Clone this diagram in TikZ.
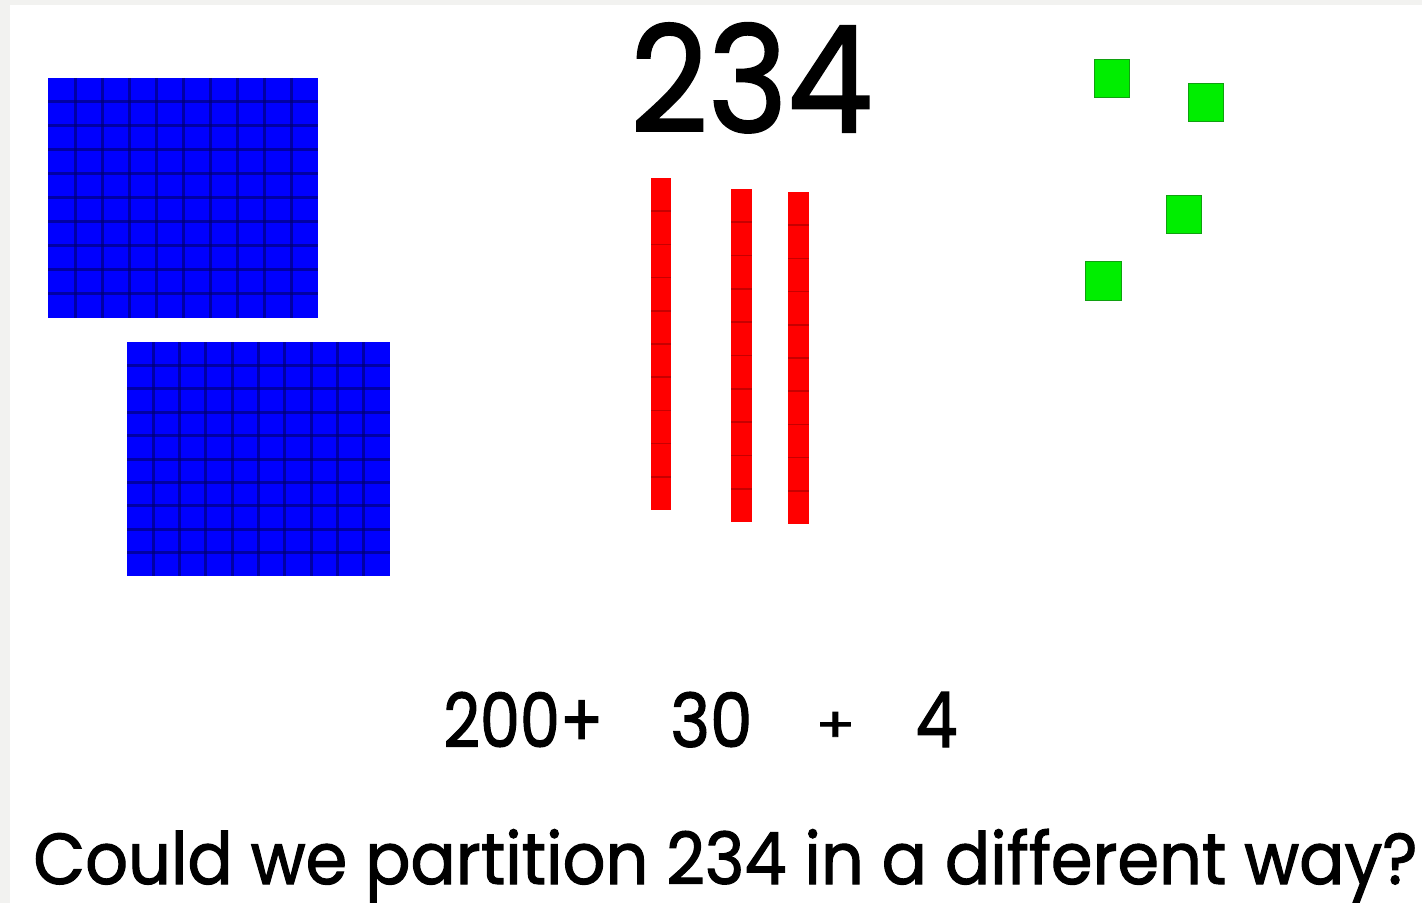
\documentclass[tikz,border=0pt]{standalone}
\usepackage{fontspec}
\usepackage{graphicx}
\newfontfamily\handfont[FakeBold=1.6]{Poppins}
\definecolor{pagegray}{HTML}{F2F2F0}
\definecolor{blockblue}{HTML}{0000FF}
\definecolor{gridnavy}{HTML}{00006A}
\definecolor{rodred}{HTML}{FF0000}
\definecolor{rodline}{HTML}{B00000}
\definecolor{unitgreen}{HTML}{00EE00}
\definecolor{unitedge}{HTML}{10A010}
\tikzset{
  flatfill/.style={fill=blockblue},
  flatgrid/.style={draw=gridnavy, line width=1.5pt, opacity=0.6},
  rodfill/.style={fill=rodred},
  rodgrid/.style={draw=rodline, line width=0.8pt, opacity=0.7},
  unitcube/.style={fill=unitgreen, draw=unitedge, line width=0.5pt},
  label/.style={font=\handfont\fontsize{40}{44}\selectfont, inner sep=0pt, text=black},
}
% text squeezed into a box of given width and height (pt)
\newcommand\fitted[3]{\resizebox{#1pt}{#2pt}{#3}}
% hundred flat: 10 x 10 grid between (x1,y1) and (x2,y2)
\newcommand\hundredflat[4]{%
  \fill[flatfill] (#1,#2) rectangle (#3,#4);
  \foreach \k in {1,...,9}{%
    \draw[flatgrid] ({#1+\k*(#3-#1)/10},#2) -- ({#1+\k*(#3-#1)/10},#4);
    \draw[flatgrid] (#1,{#2+\k*(#4-#2)/10}) -- (#3,{#2+\k*(#4-#2)/10});
  }%
}
% ten rod: 10 segments stacked vertically
\newcommand\tenrod[4]{%
  \fill[rodfill] (#1,#2) rectangle (#3,#4);
  \foreach \k in {1,...,9}{%
    \draw[rodgrid] (#1,{#2+\k*(#4-#2)/10}) -- (#3,{#2+\k*(#4-#2)/10});
  }%
}
\begin{document}
\begin{tikzpicture}[x=0.5pt, y=-0.5pt]
  \useasboundingbox (0,0) rectangle (1422,903);
  \fill[pagegray] (0,0) rectangle (1422,903);
  \fill[white] (10,5) rectangle (1422,903);

  % hundreds
  \hundredflat{48}{78}{318}{318}
  \hundredflat{127}{342}{390}{576}

  % tens
  \tenrod{651}{178}{671}{510}
  \tenrod{731}{189}{752}{522}
  \tenrod{788}{192}{809}{524}

  % ones
  \filldraw[unitcube] (1094,60) rectangle (1129,98);
  \filldraw[unitcube] (1188,84) rectangle (1223,122);
  \filldraw[unitcube] (1166,196) rectangle (1201,234);
  \filldraw[unitcube] (1085,262) rectangle (1121,301);

  % number and its partition
  \node[label, anchor=base west] (num) at (630,132) {\fitted{121}{54.5}{234}};
  \node[label, anchor=base west] (hund) at (443,747) {\fitted{80}{27.5}{200+}};
  \node[label, anchor=base west] (tens) at (670,747) {\fitted{41}{27.5}{30}};
  \node[label, anchor=base west] (plus) at (815,742) {\fitted{20}{15}{+}};
  \node[label, anchor=base west] (ones) at (915,747) {\fitted{21}{27.5}{4}};
  \node[label, anchor=base west] (question) at (33,884) {\fitted{692}{27.5}{Could we partition 234 in a different way?}};
\end{tikzpicture}
\end{document}
